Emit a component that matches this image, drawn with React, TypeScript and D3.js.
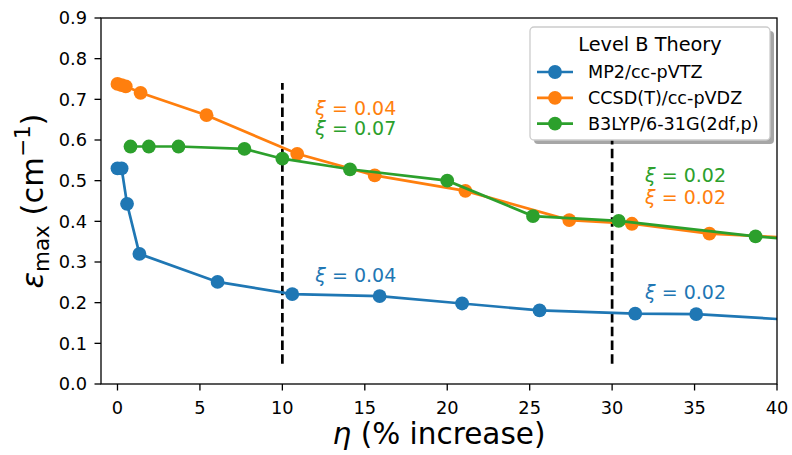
import React from "react";
import * as d3 from "d3";

const W = 792;
const H = 455;

const mp2X = [0, 0.25, 0.58, 1.33, 6.07, 10.6, 15.9, 20.9, 25.6, 31.4, 35.1, 44];
const mp2Y = [0.53, 0.53, 0.443, 0.32, 0.251, 0.221, 0.216, 0.198, 0.181, 0.173, 0.172, 0.15];
const ccsdX = [0, 0.25, 0.5, 1.4, 5.4, 10.9, 15.6, 21.1, 27.4, 31.2, 35.9, 44];
const ccsdY = [0.738, 0.735, 0.732, 0.716, 0.661, 0.566, 0.513, 0.475, 0.403, 0.394, 0.37, 0.353];
const b3lypX = [0.79, 1.9, 3.7, 7.7, 10.0, 14.1, 20.0, 25.2, 30.4, 38.7, 44];
const b3lypY = [0.584, 0.584, 0.584, 0.578, 0.554, 0.528, 0.5, 0.413, 0.401, 0.363, 0.346];

const seriesNames = ["MP2/cc-pVTZ", "CCSD(T)/cc-pVDZ", "B3LYP/6-31G(2df,p)"];
const seriesColors = ["#1f77b4", "#ff7f0e", "#2ca02c"];

const xTicks = [0, 5, 10, 15, 20, 25, 30, 35, 40];
const yTicks = [0.0, 0.1, 0.2, 0.3, 0.4, 0.5, 0.6, 0.7, 0.8, 0.9];

const vlineX = [10, 30];
const vlineY = [0.05, 0.74];

const annX = [12, 12, 12, 32, 32, 32];
const annY = [0.661, 0.612, 0.251, 0.497, 0.442, 0.21];
const annText = ["0.04", "0.07", "0.04", "0.02", "0.02", "0.02"];
const annSeries = [1, 2, 0, 2, 1, 0];

const FONT = "DejaVu Sans, sans-serif";

export default function App() {
  const left = 101, right = 777, top = 18, bottom = 384;
  const x = d3.scaleLinear().domain([-1, 40]).range([left, right]);
  const y = d3.scaleLinear().domain([0, 0.9]).range([bottom, top]);

  const series = [
    { xs: mp2X, ys: mp2Y },
    { xs: ccsdX, ys: ccsdY },
    { xs: b3lypX, ys: b3lypY },
  ];
  const line = d3
    .line<[number, number]>()
    .x((d) => x(d[0]))
    .y((d) => y(d[1]));

  const legX = 530, legY = 27, legW = 240, legH = 113;

  return (
    <svg
      width={W}
      height={H}
      style={{ position: "absolute", left: 0, top: 0, background: "#fff" }}
      fontFamily={FONT}
    >
      <defs>
        <clipPath id="plotclip">
          <rect x={left} y={top} width={right - left} height={bottom - top} />
        </clipPath>
      </defs>
      <rect x={0} y={0} width={W} height={H} fill="#fff" />

      {/* dashed vertical lines */}
      {vlineX.map((v, i) => (
        <line
          key={"v" + i}
          x1={x(v)}
          x2={x(v)}
          y1={y(vlineY[0])}
          y2={y(vlineY[1])}
          stroke="#000"
          strokeWidth={2.7}
          strokeDasharray="9.5,4.2"
        />
      ))}

      <g clipPath="url(#plotclip)">
        {series.map((s, i) => {
          const pts: [number, number][] = s.xs.map((xv, j) => [xv, s.ys[j]]);
          return (
            <g key={"s" + i}>
              <path d={line(pts) || ""} fill="none" stroke={seriesColors[i]} strokeWidth={2.7} />
              {pts.map((p, j) => (
                <circle key={j} cx={x(p[0])} cy={y(p[1])} r={6.9} fill={seriesColors[i]} />
              ))}
            </g>
          );
        })}
      </g>

      {/* annotations */}
      {annX.map((ax, i) => (
        <text
          key={"a" + i}
          x={x(ax)}
          y={y(annY[i])}
          fontSize={19}
          fill={seriesColors[annSeries[i]]}
        >
          <tspan fontStyle="italic">ξ</tspan>
          {" = " + annText[i]}
        </text>
      ))}

      {/* spines */}
      <rect x={left} y={top} width={right - left} height={bottom - top} fill="none" stroke="#000" strokeWidth={1.3} />

      {/* y ticks */}
      {yTicks.map((t) => (
        <g key={"yt" + t}>
          <line x1={left - 6.5} x2={left} y1={y(t)} y2={y(t)} stroke="#000" strokeWidth={1.3} />
          <text x={left - 14} y={y(t)} dy="0.36em" textAnchor="end" fontSize={17.8} fill="#000">
            {t.toFixed(1)}
          </text>
        </g>
      ))}
      {/* x ticks */}
      {xTicks.map((t) => (
        <g key={"xt" + t}>
          <line x1={x(t)} x2={x(t)} y1={bottom} y2={bottom + 6.5} stroke="#000" strokeWidth={1.3} />
          <text x={x(t)} y={bottom + 30} textAnchor="middle" fontSize={17.8} fill="#000">
            {t}
          </text>
        </g>
      ))}

      {/* axis labels */}
      <text x={(left + right) / 2} y={444} textAnchor="middle" fontSize={29.5} fill="#000">
        <tspan fontStyle="italic">η</tspan>
        {" (% increase)"}
      </text>
      <text
        transform={`translate(43,${(top + bottom) / 2}) rotate(-90)`}
        textAnchor="middle"
        fontSize={30.5}
        fill="#000"
      >
        <tspan fontStyle="italic">ε</tspan>
        <tspan fontSize={21.5} dy={5.5}>max</tspan>
        <tspan dy={-5.5}>{" (cm"}</tspan>
        <tspan fontSize={21.5} dy={-13}>−1</tspan>
        <tspan dy={13}>)</tspan>
      </text>

      {/* legend */}
      <rect x={legX + 4} y={legY + 4} width={legW} height={legH} rx={4} fill="#000" opacity={0.35} />
      <rect x={legX} y={legY} width={legW} height={legH} rx={4} fill="#fff" stroke="#cccccc" strokeWidth={1.3} />
      <text x={legX + legW / 2} y={legY + 24} textAnchor="middle" fontSize={19.3} fill="#000">
        Level B Theory
      </text>
      {seriesNames.map((name, i) => {
        const ly = legY + 45 + i * 25.8;
        return (
          <g key={"l" + i}>
            <line x1={legX + 7} x2={legX + 43} y1={ly} y2={ly} stroke={seriesColors[i]} strokeWidth={2.7} />
            <circle cx={legX + 25} cy={ly} r={6.9} fill={seriesColors[i]} />
            <text x={legX + 58} y={ly} dy="0.36em" fontSize={17.6} fill="#000">
              {name}
            </text>
          </g>
        );
      })}
    </svg>
  );
}
